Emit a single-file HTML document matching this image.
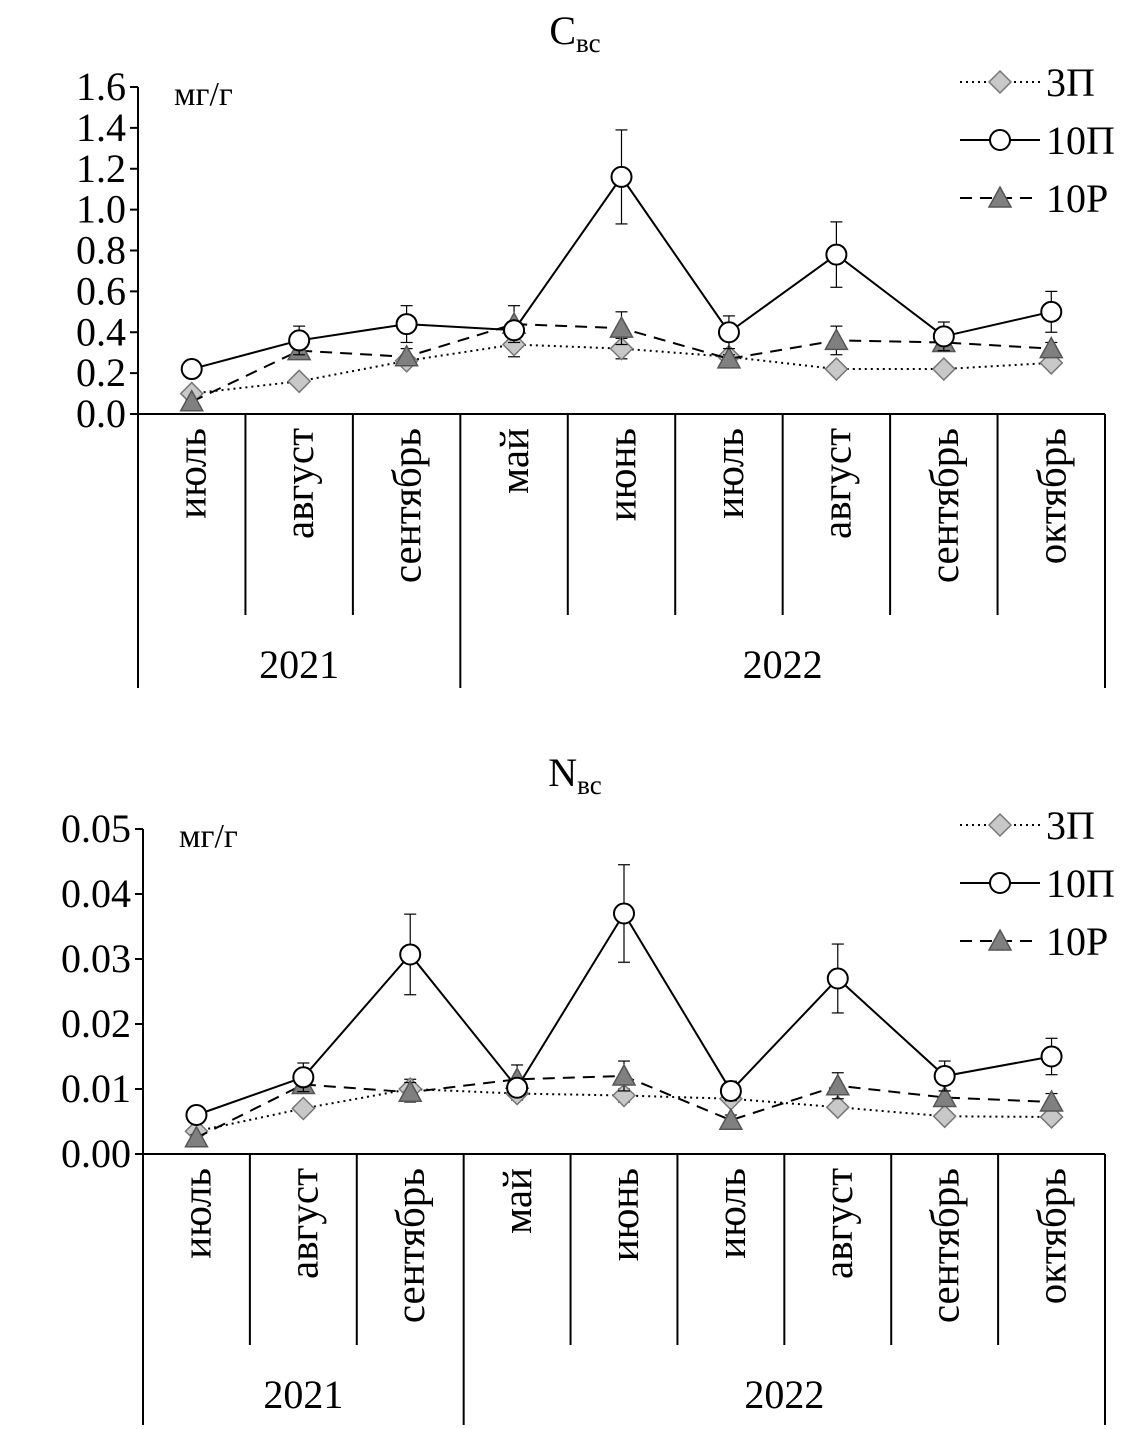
<!DOCTYPE html>
<html><head><meta charset="utf-8">
<style>
body{margin:0;background:#fff;}
svg{display:block;font-family:"Liberation Serif",serif;}
</style></head>
<body>
<svg id="svg" width="1139" height="1429" viewBox="0 0 1139 1429" xmlns="http://www.w3.org/2000/svg"></svg>
<script>
const months = ["июль","август","сентябрь","май","июнь","июль","август","сентябрь","октябрь"];
const years = ["2021","2022"];
const yearSpans = [3,6];
const c_3P = [0.10,0.16,0.26,0.34,0.32,0.28,0.22,0.22,0.25];
const c_3P_err = [0.01,0.01,0.02,0.06,0.05,0.02,0.01,0.01,0.02];
const c_10P = [0.22,0.36,0.44,0.41,1.16,0.40,0.78,0.38,0.50];
const c_10P_err = [0.02,0.07,0.09,0.03,0.23,0.08,0.16,0.07,0.10];
const c_10R = [0.06,0.31,0.28,0.44,0.42,0.27,0.36,0.35,0.32];
const c_10R_err = [0.01,0.03,0.04,0.09,0.08,0.02,0.07,0.03,0.03];
const c_ticks = ["0.0","0.2","0.4","0.6","0.8","1.0","1.2","1.4","1.6"];
const n_3P = [0.0035,0.0070,0.0100,0.0093,0.0090,0.0085,0.0072,0.0058,0.0057];
const n_3P_err = [0.0005,0.0005,0.0015,0.0010,0.0010,0.0008,0.0005,0.0005,0.0005];
const n_10P = [0.0060,0.0118,0.0307,0.0102,0.0370,0.0097,0.0270,0.0120,0.0150];
const n_10P_err = [0.0005,0.0022,0.0062,0.0010,0.0075,0.0015,0.0053,0.0023,0.0028];
const n_10R = [0.0025,0.0107,0.0095,0.0115,0.0120,0.0052,0.0105,0.0087,0.0080];
const n_10R_err = [0.0005,0.0010,0.0015,0.0022,0.0023,0.0008,0.0020,0.0010,0.0013];
const n_ticks = ["0.00","0.01","0.02","0.03","0.04","0.05"];

const NS="http://www.w3.org/2000/svg";
const svg=document.getElementById('svg');
function mk(tag,attrs,parent,txt){const e=document.createElementNS(NS,tag);for(const k in attrs)e.setAttribute(k,attrs[k]);if(txt!==undefined)e.textContent=txt;(parent||svg).appendChild(e);return e;}

function chart(o){
  const g=mk('g',{});
  
  
  const L=o.left,R=1105,y0=o.y0,yT=o.yTop,max=o.max;
  const cw=(R-L)/months.length;
  const X=i=>L+cw*(i+0.5);
  const Y=v=>y0-(v/max)*(y0-yT);
  const t=mk('text',{x:575,y:o.titleY,'font-size':40,'text-anchor':'middle'},g);
  
  
  mk('tspan',{},t,o.title[0]);
  mk('tspan',{'font-size':27,dy:8},t,'вс');
  mk('line',{x1:L,y1:yT,x2:L,y2:y0,stroke:'#000','stroke-width':2},g);
  o.ticks.forEach((s,i)=>{
    const v=max*i/(o.ticks.length-1);
    mk('line',{x1:L-8,y1:Y(v),x2:L,y2:Y(v),stroke:'#000','stroke-width':2},g);
    const tx=mk('text',{x:L-12,y:Y(v)+13,'font-size':40,'text-anchor':'end'},g,s);
    
    
  });
  const u=mk('text',{x:L+36,y:yT+18,'font-size':34},g,'мг/г');
  
  
  mk('line',{x1:L,y1:y0,x2:R,y2:y0,stroke:'#000','stroke-width':2},g);
  let cum=0;const yb=[0];yearSpans.forEach(s=>{cum+=s;yb.push(cum);});
  for(let i=0;i<=months.length;i++){
    const x=L+cw*i;const isY=yb.includes(i);
    mk('line',{x1:x,y1:y0,x2:x,y2:isY?o.yearBot:o.monthBot,stroke:'#000','stroke-width':2},g);
  }
  months.forEach((m,i)=>{
    const tx=mk('text',{x:0,y:0,'font-size':41,'text-anchor':'end',transform:`translate(${X(i)+14},${y0+14}) rotate(-90)`},g,m);
    
    
  });
  years.forEach((yv,k)=>{
    const cx=L+cw*(yb[k]+yb[k+1])/2;
    const tx=mk('text',{x:cx,y:o.yearY,'font-size':40,'text-anchor':'middle'},g,yv);
    
    
  });
  const series=[
    {d:o.s3P,e:o.e3P,dash:'2,4',mark:'d',name:'series-3p'},
    {d:o.s10R,e:o.e10R,dash:'12,8',mark:'t',name:'series-10r'},
    {d:o.s10P,e:o.e10P,dash:'',mark:'c',name:'series-10p'}];
  function marker(mark,x,y,par){
    let e;
    if(mark==='d') e=mk('polygon',{points:`${x},${y-11} ${x+11},${y} ${x},${y+11} ${x-11},${y}`,fill:'#c8c8c8',stroke:'#777','stroke-width':1.5},par);
    else if(mark==='t') e=mk('polygon',{points:`${x},${y-11} ${x+11},${y+9} ${x-11},${y+9}`,fill:'#808080',stroke:'#555','stroke-width':1.5},par);
    else e=mk('circle',{cx:x,cy:y,r:10,fill:'#fff',stroke:'#000','stroke-width':2},par);
    return e;
  }
  series.forEach(s=>{
    const sg=mk('g',{},g);
    
    
    s.d.forEach((v,i)=>{
      const x=X(i),a=Y(v+s.e[i]),b=Y(Math.max(0,v-s.e[i]));
      mk('line',{x1:x,y1:a,x2:x,y2:b,stroke:'#000','stroke-width':1.2},sg);
      mk('line',{x1:x-6,y1:a,x2:x+6,y2:a,stroke:'#000','stroke-width':1.2},sg);
      mk('line',{x1:x-6,y1:b,x2:x+6,y2:b,stroke:'#000','stroke-width':1.2},sg);
    });
    mk('polyline',{points:s.d.map((v,i)=>X(i)+','+Y(v)).join(' '),fill:'none',stroke:'#000','stroke-width':2,'stroke-dasharray':s.dash},sg);
    s.d.forEach((v,i)=>{const m=marker(s.mark,X(i),Y(v),sg);});
  });
  const lg=mk('g',{},g);
  
  
  const leg=[['3П','2,4','d'],['10П','','c'],['10Р','12,8','t']];
  leg.forEach((l,k)=>{
    const y=o.legY+k*58;
    const eg=mk('g',{},lg);
    
    
    mk('line',{x1:960,y1:y,x2:1040,y2:y,stroke:'#000','stroke-width':2,'stroke-dasharray':l[1]},eg);
    marker(l[2],1000,y,eg);
    mk('text',{x:1046,y:y+14,'font-size':40},eg,l[0]);
  });
}
chart({name:'chart-c',title:'C',titleY:44,left:138,y0:414,yTop:87,max:1.6,ticks:c_ticks,monthBot:615,yearBot:688,yearY:678,legY:82,
  s3P:c_3P,e3P:c_3P_err,s10P:c_10P,e10P:c_10P_err,s10R:c_10R,e10R:c_10R_err});
chart({name:'chart-n',title:'N',titleY:786,left:143,y0:1154,yTop:829,max:0.05,ticks:n_ticks,monthBot:1345,yearBot:1425,yearY:1408,legY:825,
  s3P:n_3P,e3P:n_3P_err,s10P:n_10P,e10P:n_10P_err,s10R:n_10R,e10R:n_10R_err});
</script>
</body></html>
